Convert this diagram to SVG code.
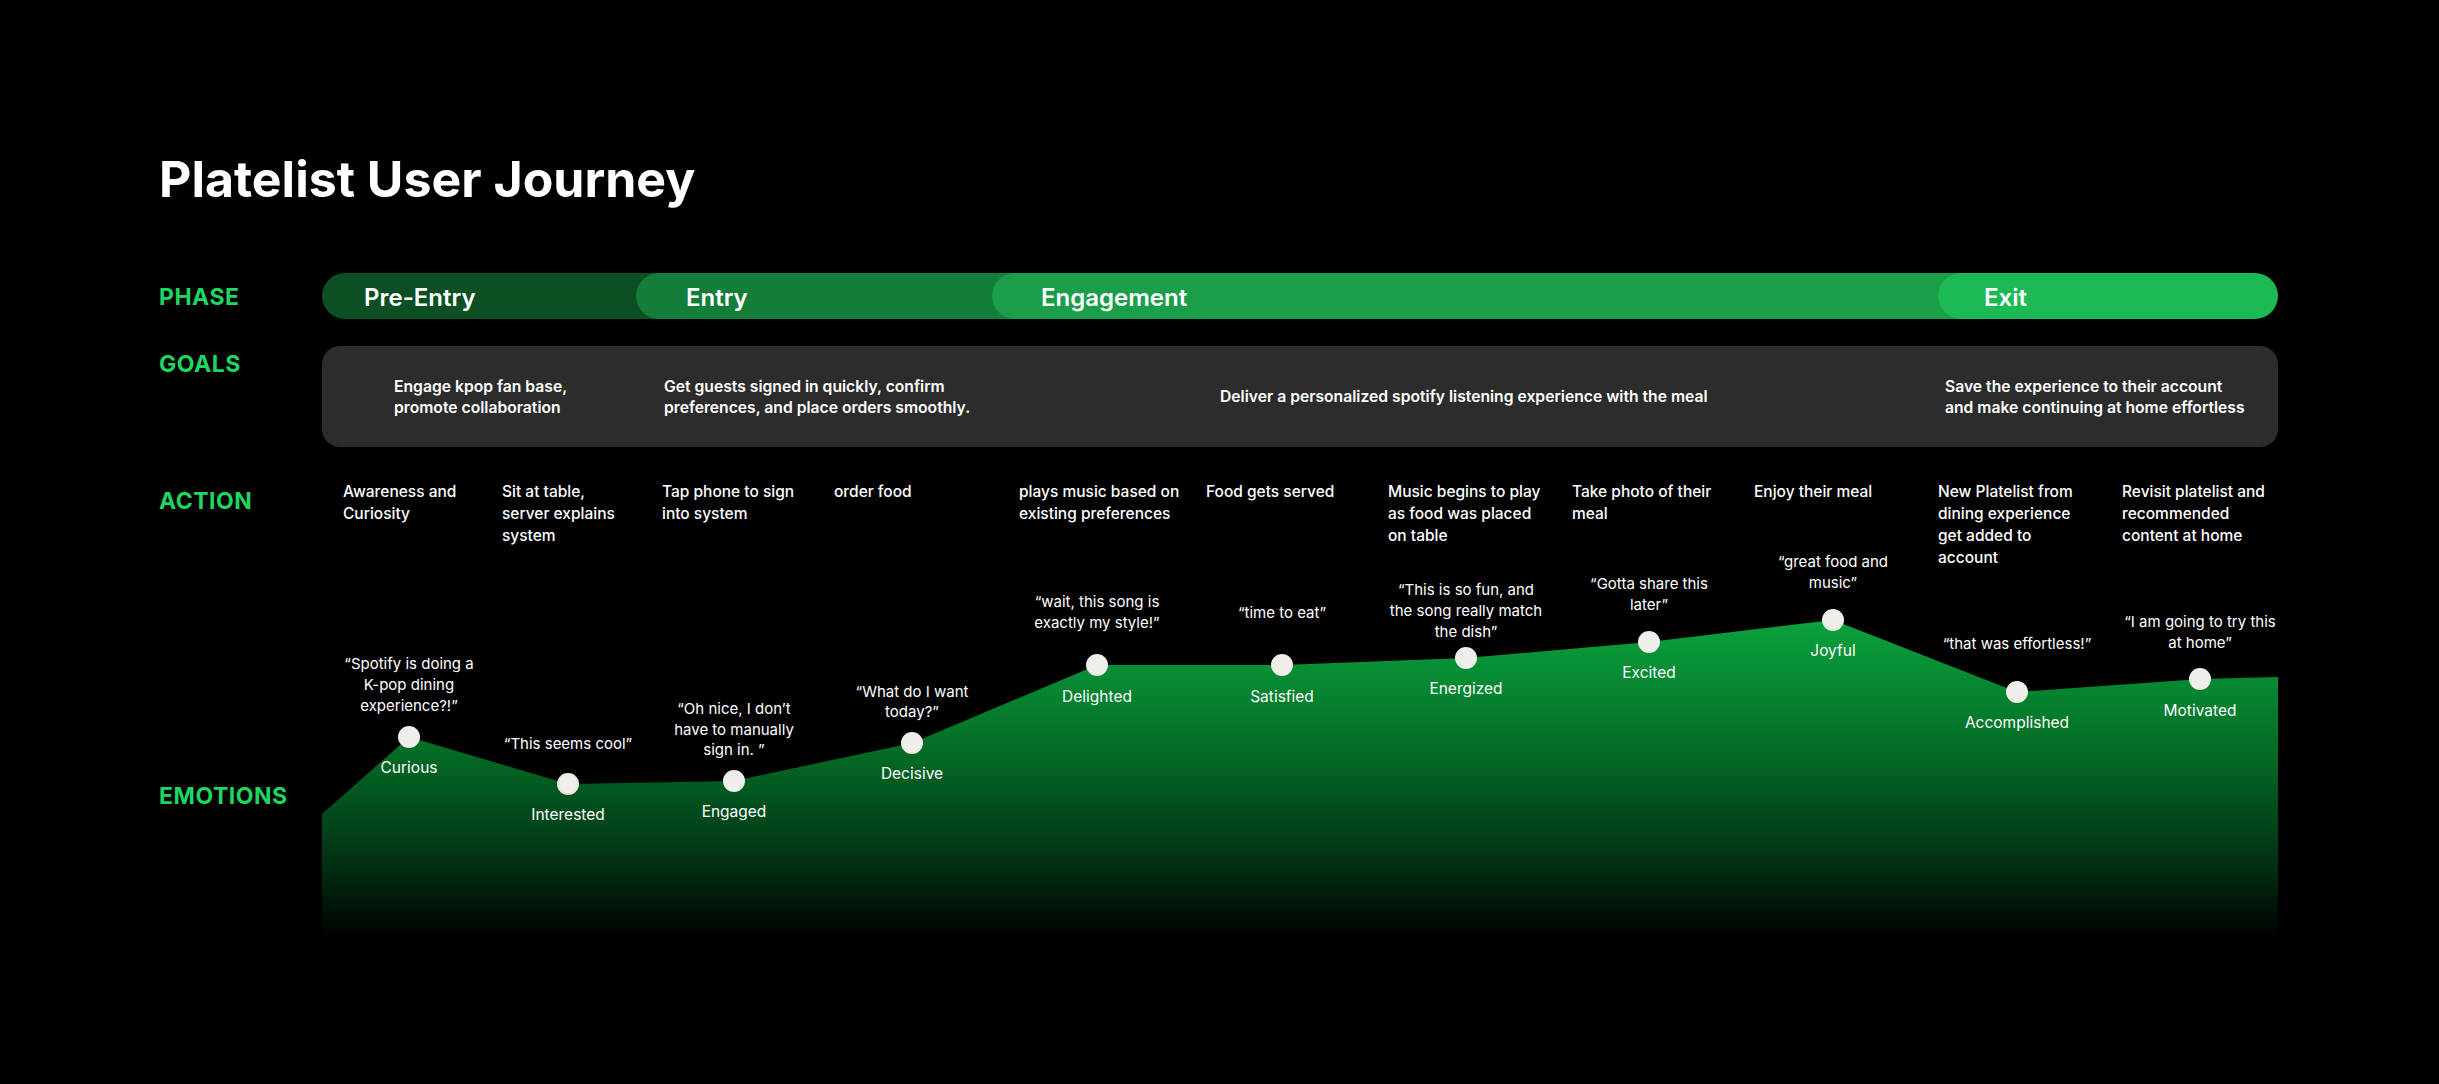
<svg xmlns="http://www.w3.org/2000/svg" width="2439" height="1084" viewBox="0 0 2439 1084">
<style>
.title{font-family:Inter,"Liberation Sans",sans-serif;font-weight:700;font-size:50px;fill:#fff}
.row{font-family:Inter,"Liberation Sans",sans-serif;font-weight:700;font-size:23px;letter-spacing:0.5px;fill:#1ed760}
.phase{font-family:Inter,"Liberation Sans",sans-serif;font-weight:600;font-size:24px;fill:#fff}
.goal{font-family:Inter,"Liberation Sans",sans-serif;font-weight:600;font-size:15.7px;fill:#fff}
.act{font-family:Inter,"Liberation Sans",sans-serif;font-weight:500;font-size:15.5px;fill:#fff}
.quote{font-family:Inter,"Liberation Sans",sans-serif;font-weight:400;font-size:15px;fill:#fff;text-anchor:middle}
.emo{font-family:Inter,"Liberation Sans",sans-serif;font-weight:400;font-size:15.5px;fill:#fff;text-anchor:middle}
.dot{fill:#f0eee8}
</style>
<defs>
<linearGradient id="areaGrad" gradientUnits="userSpaceOnUse" x1="0" y1="620" x2="0" y2="940">
<stop offset="0" stop-color="#0aa23c"/>
<stop offset="0.406" stop-color="#036c26"/>
<stop offset="0.72" stop-color="#023815"/>
<stop offset="1" stop-color="#000000"/>
</linearGradient>
</defs>
<rect width="2439" height="1084" fill="#000"/>
<text class="title" x="159" y="197">Platelist User Journey</text>

<g id="row-labels">
<text class="row" x="159" y="305">PHASE</text>
<text class="row" x="159" y="372">GOALS</text>
<text class="row" x="159" y="509">ACTION</text>
<text class="row" x="159" y="804">EMOTIONS</text>
</g>

<g id="phase-bar">
<g id="phase-pre-entry"><rect x="322" y="273" width="380" height="46" rx="23" fill="#0c4f22"/><text class="phase" x="364" y="306">Pre-Entry</text></g>
<g id="phase-entry"><rect x="636" y="273" width="420" height="46" rx="23" fill="#157d3a"/><text class="phase" x="686" y="306">Entry</text></g>
<g id="phase-engagement"><rect x="992" y="273" width="1000" height="46" rx="23" fill="#1a9e49"/><text class="phase" x="1041" y="306">Engagement</text></g>
<g id="phase-exit"><rect x="1938" y="273" width="340" height="46" rx="23" fill="#1cb954"/><text class="phase" x="1984" y="306">Exit</text></g>
</g>

<g id="goals">
<rect x="322" y="346" width="1956" height="101" rx="18" fill="#2c2c2c"/>
<g id="goal-pre-entry"><text class="goal" x="394" y="392">Engage kpop fan base,</text><text class="goal" x="394" y="413">promote collaboration</text></g>
<g id="goal-entry"><text class="goal" x="664" y="392">Get guests signed in quickly, confirm</text><text class="goal" x="664" y="413">preferences, and place orders smoothly.</text></g>
<g id="goal-engagement"><text class="goal" x="1220" y="402">Deliver a personalized spotify listening experience with the meal</text></g>
<g id="goal-exit"><text class="goal" x="1945" y="392">Save the experience to their account</text><text class="goal" x="1945" y="413">and make continuing at home effortless</text></g>
</g>

<g id="actions">
<g id="action-1"><text class="act" x="343" y="497">Awareness and</text><text class="act" x="343" y="519">Curiosity</text></g>
<g id="action-2"><text class="act" x="502" y="497">Sit at table,</text><text class="act" x="502" y="519">server explains</text><text class="act" x="502" y="541">system</text></g>
<g id="action-3"><text class="act" x="662" y="497">Tap phone to sign</text><text class="act" x="662" y="519">into system</text></g>
<g id="action-4"><text class="act" x="834" y="497">order food</text></g>
<g id="action-5"><text class="act" x="1019" y="497">plays music based on</text><text class="act" x="1019" y="519">existing preferences</text></g>
<g id="action-6"><text class="act" x="1206" y="497">Food gets served</text></g>
<g id="action-7"><text class="act" x="1388" y="497">Music begins to play</text><text class="act" x="1388" y="519">as food was placed</text><text class="act" x="1388" y="541">on table</text></g>
<g id="action-8"><text class="act" x="1572" y="497">Take photo of their</text><text class="act" x="1572" y="519">meal</text></g>
<g id="action-9"><text class="act" x="1754" y="497">Enjoy their meal</text></g>
<g id="action-10"><text class="act" x="1938" y="497">New Platelist from</text><text class="act" x="1938" y="519">dining experience</text><text class="act" x="1938" y="541">get added to</text><text class="act" x="1938" y="563">account</text></g>
<g id="action-11"><text class="act" x="2122" y="497">Revisit platelist and</text><text class="act" x="2122" y="519">recommended</text><text class="act" x="2122" y="541">content at home</text></g>
</g>

<g id="connectors">
<polygon fill="url(#areaGrad)" points="322,945 322,814 409,737 568,784 734,781 912,743 1097,665 1282,665 1466,658 1649,642 1833,620 2017,692 2200,679 2278,677 2278,945"/>
</g>

<g id="emotions">
<g id="emo-curious"><text class="quote" x="409" y="669">“Spotify is doing a</text><text class="quote" x="409" y="690">K-pop dining</text><text class="quote" x="409" y="711">experience?!”</text><circle class="dot" cx="409" cy="737" r="11"/><text class="emo" x="409" y="773">Curious</text></g>
<g id="emo-interested"><text class="quote" x="568" y="749">“This seems cool”</text><circle class="dot" cx="568" cy="784" r="11"/><text class="emo" x="568" y="820">Interested</text></g>
<g id="emo-engaged"><text class="quote" x="734" y="714">“Oh nice, I don’t</text><text class="quote" x="734" y="735">have to manually</text><text class="quote" x="734" y="755">sign in. ”</text><circle class="dot" cx="734" cy="781" r="11"/><text class="emo" x="734" y="817">Engaged</text></g>
<g id="emo-decisive"><text class="quote" x="912" y="697">“What do I want</text><text class="quote" x="912" y="717">today?”</text><circle class="dot" cx="912" cy="743" r="11"/><text class="emo" x="912" y="779">Decisive</text></g>
<g id="emo-delighted"><text class="quote" x="1097" y="607">“wait, this song is</text><text class="quote" x="1097" y="628">exactly my style!”</text><circle class="dot" cx="1097" cy="665" r="11"/><text class="emo" x="1097" y="702">Delighted</text></g>
<g id="emo-satisfied"><text class="quote" x="1282" y="618">“time to eat”</text><circle class="dot" cx="1282" cy="665" r="11"/><text class="emo" x="1282" y="702">Satisfied</text></g>
<g id="emo-energized"><text class="quote" x="1466" y="595">“This is so fun, and</text><text class="quote" x="1466" y="616">the song really match</text><text class="quote" x="1466" y="637">the dish”</text><circle class="dot" cx="1466" cy="658" r="11"/><text class="emo" x="1466" y="694">Energized</text></g>
<g id="emo-excited"><text class="quote" x="1649" y="589">“Gotta share this</text><text class="quote" x="1649" y="610">later”</text><circle class="dot" cx="1649" cy="642" r="11"/><text class="emo" x="1649" y="678">Excited</text></g>
<g id="emo-joyful"><text class="quote" x="1833" y="567">“great food and</text><text class="quote" x="1833" y="588">music”</text><circle class="dot" cx="1833" cy="620" r="11"/><text class="emo" x="1833" y="656">Joyful</text></g>
<g id="emo-accomplished"><text class="quote" x="2017" y="649">“that was effortless!”</text><circle class="dot" cx="2017" cy="692" r="11"/><text class="emo" x="2017" y="728">Accomplished</text></g>
<g id="emo-motivated"><text class="quote" x="2200" y="627">“I am going to try this</text><text class="quote" x="2200" y="648">at home”</text><circle class="dot" cx="2200" cy="679" r="11"/><text class="emo" x="2200" y="716">Motivated</text></g>
</g>
</svg>
